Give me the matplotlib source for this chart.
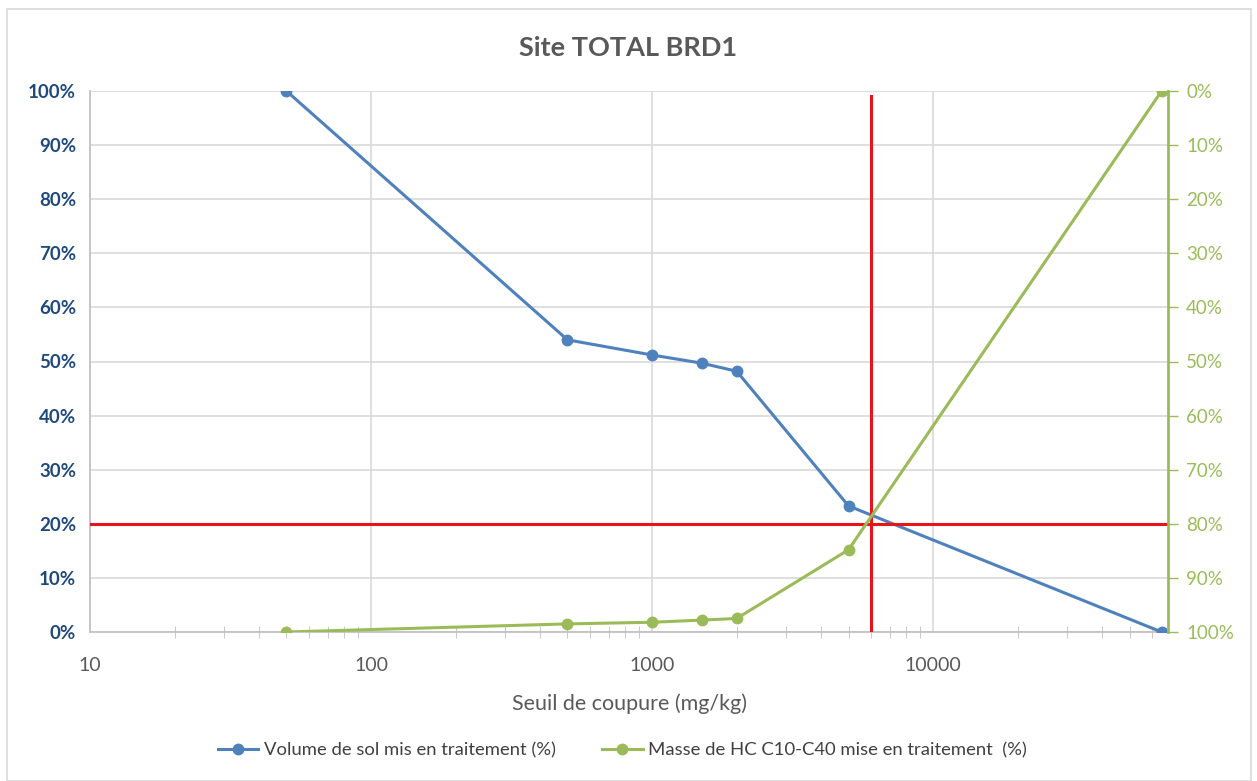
import matplotlib.pyplot as plt
from matplotlib.ticker import FixedLocator, PercentFormatter, NullFormatter
from matplotlib.patches import Rectangle

plt.rcParams['font.family'] = ['Lato', 'DejaVu Sans']

# donnees
seuil = [50, 500, 1000, 1500, 2000, 5000, 65000]
volume = [1.00, 0.54, 0.512, 0.497, 0.482, 0.233, 0.0]
masse = [1.00, 0.985, 0.982, 0.978, 0.975, 0.848, 0.0]
seuil_retenu = 6000
volume_retenu = 0.20
x_ticks = [10, 100, 1000, 10000]
x_tick_labels = ["10", "100", "1000", "10000"]
y_ticks = [0, 0.1, 0.2, 0.3, 0.4, 0.5, 0.6, 0.7, 0.8, 0.9, 1.0]

bleu = "#4F81BD"
vert = "#9BBB59"
rouge = "#E8141B"
gris = "#D9D9D9"

fig = plt.figure(figsize=(12.57, 7.81), dpi=100)
fig.patches.append(Rectangle((7/1257, 0.0), 1244/1257, 1 - 9/781, transform=fig.transFigure,
                             fill=False, edgecolor="#D9D9D9", linewidth=1.2))
ax = fig.add_axes([90/1257, 1 - 632/781, (1168-90)/1257, (632-91)/781])

ax.set_xscale("log")
ax.set_xlim(10, 68500)
ax.set_ylim(0, 1)
ax.set_yticks(y_ticks)
ax.yaxis.set_major_formatter(PercentFormatter(1.0, decimals=0))
ax.xaxis.set_major_locator(FixedLocator(x_ticks))
ax.set_xticklabels(x_tick_labels)
ax.xaxis.set_minor_formatter(NullFormatter())
ax.grid(True, which="major", color=gris, linewidth=1.2)
ax.set_axisbelow(True)
for s in ["top", "right"]:
    ax.spines[s].set_visible(False)
ax.spines["left"].set_color("#BFBFBF")
ax.spines["bottom"].set_color("#BFBFBF")
ax.spines["left"].set_linewidth(1.2)
ax.spines["bottom"].set_linewidth(1.2)
ax.tick_params(axis="y", length=0, pad=10, labelsize=13.5, labelcolor="#1F497D")
for t in ax.get_yticklabels():
    t.set_fontweight("bold")
ax.tick_params(axis="x", which="both", direction="inout", length=8, color="#BFBFBF",
               labelsize=14, labelcolor="#595959", pad=18)
ax.tick_params(axis="x", which="major", length=0)

l1, = ax.plot(seuil, volume, color=bleu, linewidth=2.2, marker="o", markersize=7.5,
              label="Volume de sol mis en traitement (%)", zorder=3)
ax.axhline(volume_retenu, color=rouge, linewidth=2.2, zorder=4)
ax.axvline(seuil_retenu, ymin=0, ymax=0.99, color=rouge, linewidth=2.2, zorder=4)

ax2 = ax.twinx()
ax2.set_ylim(1, 0)
ax2.set_yticks(y_ticks)
ax2.yaxis.set_major_formatter(PercentFormatter(1.0, decimals=0))
for s in ["top", "left", "bottom"]:
    ax2.spines[s].set_visible(False)
ax2.spines["right"].set_color(vert)
ax2.spines["right"].set_linewidth(2)
ax2.tick_params(axis="y", length=7, color=vert, width=1, labelsize=13.5, labelcolor=vert, pad=6)
l2, = ax2.plot(seuil, masse, color=vert, linewidth=2.2, marker="o", markersize=7.5,
               label="Masse de HC C10-C40 mise en traitement  (%)", zorder=3)

fig.text(0.5, 1 - 48/781, "Site TOTAL BRD1", ha="center", va="center",
         fontsize=19.5, fontweight="bold", color="#595959")
ax.set_xlabel("Seuil de coupure (mg/kg)", fontsize=15.5, color="#595959", labelpad=14)

fig.legend([l1, l2], [l1.get_label(), l2.get_label()], loc="center",
           bbox_to_anchor=(0.495, 1 - 750/781), ncol=2, frameon=False, fontsize=13.3,
           labelcolor="#404040", columnspacing=2.5, handlelength=2.2, handletextpad=0.3)

fig.savefig("out.png", dpi=100)
